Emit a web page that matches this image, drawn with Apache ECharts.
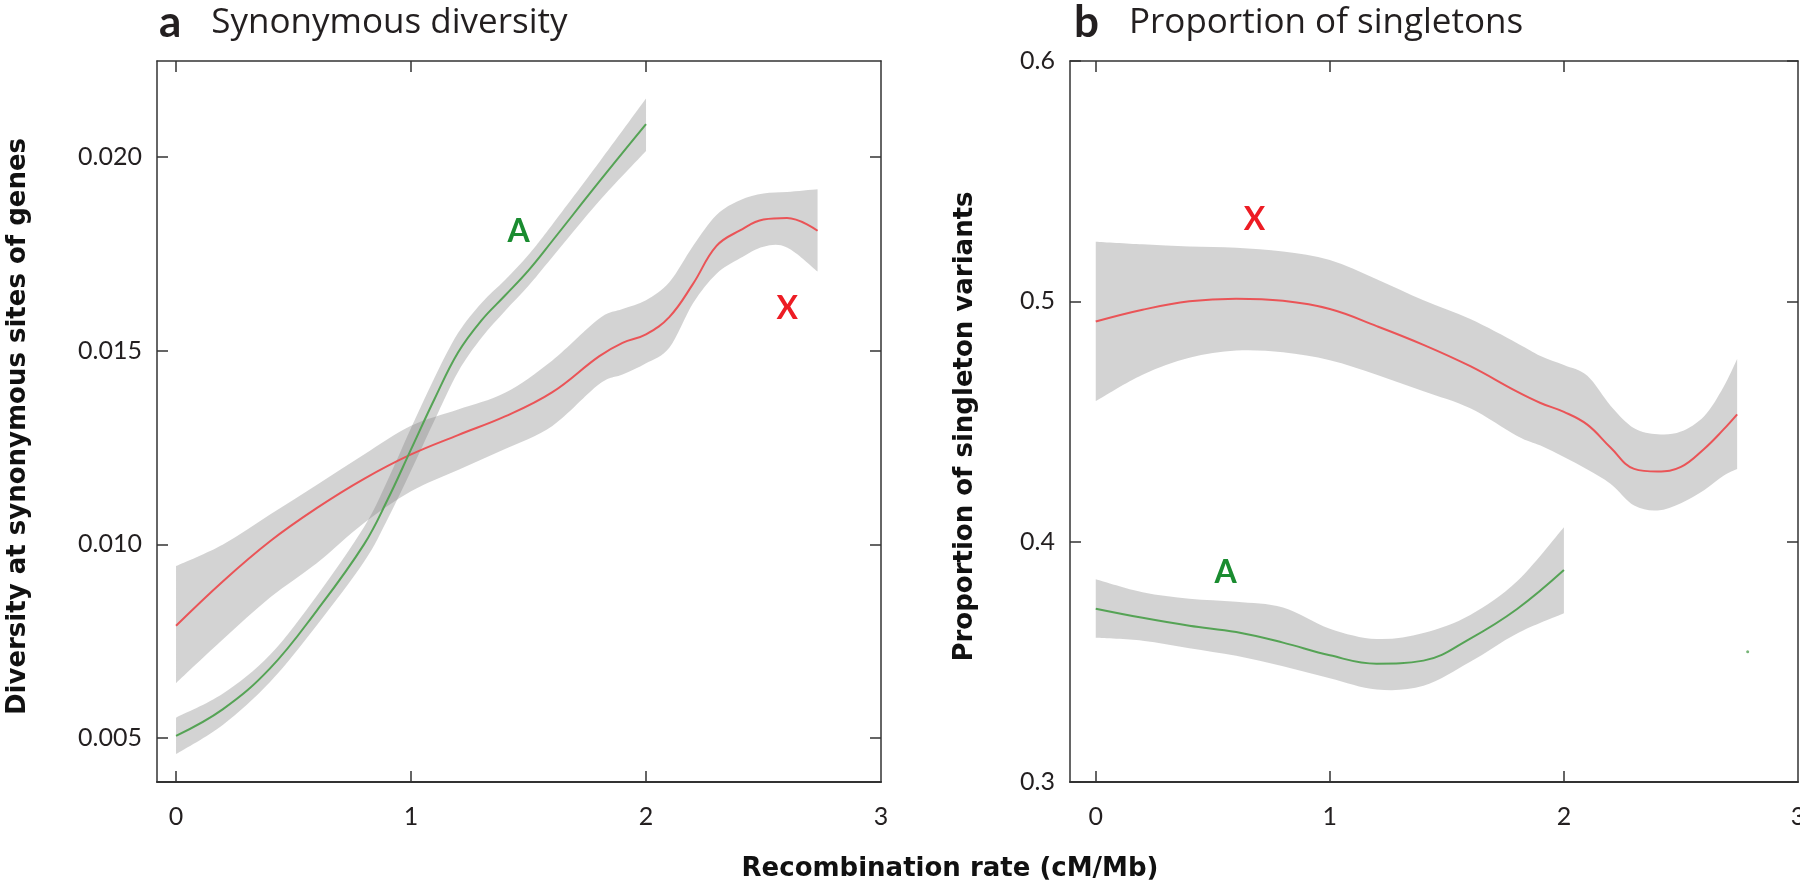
<!DOCTYPE html>
<html>
<head>
<meta charset="utf-8">
<script src="https://cdn.jsdelivr.net/npm/echarts@6/dist/echarts.min.js"></script>
<style>
html,body{margin:0;padding:0;background:#fff;}
#chart{width:1800px;height:883px;}
</style>
</head>
<body>
<div id="chart"></div>
<script>
// ---------- Panel a: Synonymous diversity ----------
const aRedX   = [0, 0.2, 0.4, 0.6, 0.8, 1.0, 1.2, 1.4, 1.6, 1.8, 1.9, 2.0, 2.1, 2.2, 2.3, 2.4, 2.5, 2.6, 2.73];
const aRedMid = [0.00790, 0.00905, 0.01008, 0.01094, 0.01169, 0.01232, 0.01282, 0.01330, 0.01392, 0.01485, 0.01520, 0.01542, 0.01587, 0.01672, 0.01770, 0.01810, 0.01838, 0.01842, 0.01809];
const aRedHi  = [0.00944, 0.01000, 0.01077, 0.01154, 0.01232, 0.01306, 0.01348, 0.01391, 0.01474, 0.01582, 0.01607, 0.01630, 0.01677, 0.01770, 0.01850, 0.01888, 0.01905, 0.01909, 0.01916];
const aRedLo  = [0.00642, 0.00755, 0.00863, 0.00952, 0.01055, 0.01137, 0.01192, 0.01246, 0.01305, 0.01413, 0.01438, 0.01467, 0.01508, 0.01622, 0.01698, 0.01738, 0.01768, 0.01766, 0.01704];

const aGrnX   = [0, 0.2, 0.4, 0.6, 0.8, 0.9, 1.0, 1.1, 1.2, 1.3, 1.4, 1.5, 1.6, 1.8, 2.0];
const aGrnMid = [0.00506, 0.00575, 0.00680, 0.00830, 0.01000, 0.01115, 0.01245, 0.01375, 0.01495, 0.01578, 0.01642, 0.01707, 0.01782, 0.01935, 0.02084];
const aGrnHi  = [0.00553, 0.00615, 0.00715, 0.00868, 0.01045, 0.01165, 0.01300, 0.01430, 0.01545, 0.01623, 0.01682, 0.01747, 0.01824, 0.01985, 0.02150];
const aGrnLo  = [0.00459, 0.00535, 0.00645, 0.00792, 0.00955, 0.01065, 0.01190, 0.01320, 0.01445, 0.01533, 0.01602, 0.01667, 0.01740, 0.01885, 0.02015];

// ---------- Panel b: Proportion of singletons ----------
const bRedX   = [0, 0.2, 0.4, 0.6, 0.8, 1.0, 1.2, 1.4, 1.6, 1.8, 1.9, 2.0, 2.1, 2.2, 2.3, 2.4, 2.5, 2.6, 2.68, 2.74];
const bRedMid = [0.4916, 0.4965, 0.5000, 0.5011, 0.5002, 0.4968, 0.4897, 0.4819, 0.4730, 0.4624, 0.4577, 0.4540, 0.4487, 0.4391, 0.4303, 0.4292, 0.4311, 0.4387, 0.4465, 0.4530];
const bRedHi  = [0.5248, 0.5237, 0.5228, 0.5223, 0.5207, 0.5172, 0.5092, 0.5004, 0.4926, 0.4826, 0.4773, 0.4735, 0.4690, 0.4565, 0.4472, 0.4447, 0.4458, 0.4523, 0.4640, 0.4760];
const bRedLo  = [0.4585, 0.4695, 0.4765, 0.4795, 0.4788, 0.4755, 0.4695, 0.4626, 0.4555, 0.4440, 0.4400, 0.4352, 0.4300, 0.4240, 0.4150, 0.4130, 0.4160, 0.4215, 0.4273, 0.4302];

const bGrnX   = [0, 0.2, 0.4, 0.6, 0.8, 1.0, 1.2, 1.4, 1.6, 1.8, 2.0];
const bGrnMid = [0.3721, 0.3683, 0.3650, 0.3624, 0.3580, 0.3527, 0.3492, 0.3505, 0.3597, 0.3720, 0.3882];
const bGrnHi  = [0.3844, 0.3790, 0.3763, 0.3750, 0.3726, 0.3638, 0.3595, 0.3620, 0.3695, 0.3835, 0.4060];
const bGrnLo  = [0.3600, 0.3588, 0.3557, 0.3525, 0.3482, 0.3432, 0.3385, 0.3400, 0.3500, 0.3618, 0.3702];
const bSpeck  = [[2.785, 0.3542]];

// ---------- ticks & labels ----------
const xTicks = [0, 1, 2, 3];
const aYTicks = [0.005, 0.010, 0.015, 0.020];
const bYTicks = [0.3, 0.4, 0.5, 0.6];
const labelsA = [{ name: 'A', x: 1.458, y: 0.01807, color: '#1a8c30' }, { name: 'X', x: 2.601, y: 0.01608, color: '#ed1c24' }];
const labelsB = [{ name: 'X', x: 0.678, y: 0.5341, color: '#ed1c24' }, { name: 'A', x: 0.555, y: 0.3873, color: '#1a8c30' }];

const RED = '#ea5457', GREEN = '#55a355', BAND = 'rgba(128,128,128,0.35)', AX = '#333';
const tickFont = 'Lato, "Open Sans", sans-serif';
const boldFont = '"DejaVu Sans", Verdana, sans-serif';

function pairs(xs, ys) { return xs.map((x, i) => [x, ys[i]]); }

// Catmull-Rom -> cubic Bezier segments through pixel points
function curveCmds(p) {
  let d = '';
  for (let i = 0; i < p.length - 1; i++) {
    const p0 = p[i - 1] || p[i], p1 = p[i], p2 = p[i + 1], p3 = p[i + 2] || p[i + 1];
    const c1 = [p1[0] + (p2[0] - p0[0]) / 6, p1[1] + (p2[1] - p0[1]) / 6];
    const c2 = [p2[0] - (p3[0] - p1[0]) / 6, p2[1] - (p3[1] - p1[1]) / 6];
    d += 'C' + c1[0] + ',' + c1[1] + ' ' + c2[0] + ',' + c2[1] + ' ' + p2[0] + ',' + p2[1];
  }
  return d;
}
function band(xs, lo, hi, xi, yi) {
  return { type: 'custom', xAxisIndex: xi, yAxisIndex: yi, silent: true, z: 1,
    data: [[xs[0], lo[0]]],
    renderItem: function (params, api) {
      const up = xs.map((x, i) => api.coord([x, hi[i]]));
      const dn = xs.map((x, i) => api.coord([x, lo[i]])).reverse();
      const d = 'M' + up[0][0] + ',' + up[0][1] + curveCmds(up) + 'L' + dn[0][0] + ',' + dn[0][1] + curveCmds(dn) + 'Z';
      return { type: 'path', shape: { pathData: d }, style: { fill: BAND, stroke: null } };
    } };
}
function mid(xs, ys, xi, yi, color) {
  return { type: 'line', xAxisIndex: xi, yAxisIndex: yi, data: pairs(xs, ys), smooth: 0.4, symbol: 'none',
    lineStyle: { color: color, width: 2 }, z: 3, silent: true };
}
function letters(list, xi, yi) {
  return { type: 'scatter', xAxisIndex: xi, yAxisIndex: yi, symbolSize: 1, itemStyle: { color: 'rgba(0,0,0,0)' }, z: 4, silent: true,
    labelLayout: { hideOverlap: false },
    data: list.map(d => ({ value: [d.x, d.y], label: { show: true, position: 'inside', formatter: d.name,
      color: d.color, opacity: 1, fontFamily: '"Liberation Sans Narrow", Lato, sans-serif', fontWeight: 'bold', fontSize: 32 } })) };
}

function xAx(grid, pos, min, max, labels) {
  return { type: 'value', gridIndex: grid, position: pos, min: min, max: max,
    axisLine: { show: true, onZero: false, lineStyle: { color: AX, width: pos === 'bottom' ? 2 : 1.5 } },
    axisTick: { show: true, inside: true, length: 11, lineStyle: { color: AX, width: 1.5 }, customValues: [0, 1, 2] },
    axisLabel: { show: labels, customValues: xTicks, margin: 22, fontSize: 25, color: '#231f20', fontFamily: tickFont,
      showMinLabel: true, showMaxLabel: true, formatter: v => String(v) },
    splitLine: { show: false } };
}
function yAx(grid, pos, min, max, ticks, dec, labels, name, gap) {
  return { type: 'value', gridIndex: grid, position: pos, min: min, max: max,
    name: name || '', nameLocation: 'middle', nameGap: gap || 0,
    nameTextStyle: { fontFamily: boldFont, fontWeight: 'bold', fontSize: 26, color: '#111', padding: [0, 10, 0, 0] },
    axisLine: { show: true, onZero: false, lineStyle: { color: AX, width: 1.5 } },
    axisTick: { show: true, inside: true, length: 11, lineStyle: { color: AX, width: 1.5 }, customValues: ticks },
    axisLabel: { show: labels, customValues: ticks, margin: 15, fontSize: 25, color: '#231f20', fontFamily: tickFont,
      showMinLabel: true, showMaxLabel: true, formatter: v => v.toFixed(dec) },
    splitLine: { show: false } };
}

const titleRich = {
  b: { fontFamily: 'Lato, sans-serif', fontWeight: 'bold', fontSize: 44, color: '#231f20' },
  s: { fontSize: 36 },
  n: { fontFamily: '"Open Sans", sans-serif', fontWeight: 'normal', fontSize: 35, color: '#231f20' }
};

const chart = echarts.init(document.getElementById('chart'), null, { renderer: 'canvas' });
chart.setOption({
  backgroundColor: '#fff',
  animation: false,
  title: [
    { left: 154, top: -4, text: '{b|a}{s|   }{n|Synonymous diversity}', textStyle: { rich: titleRich } },
    { left: 1069, top: -4, text: '{b|b}{s|   }{n|Proportion of singletons}', textStyle: { rich: titleRich } },
    { left: 945, top: 851, textAlign: 'center', text: 'Recombination rate (cM/Mb)',
      textStyle: { fontFamily: boldFont, fontWeight: 'bold', fontSize: 26, color: '#111' } }
  ],
  grid: [
    { left: 157, top: 61, width: 724, height: 721, containLabel: false, outerBoundsMode: 'none' },
    { left: 1070, top: 61, width: 728, height: 721, containLabel: false, outerBoundsMode: 'none' }
  ],
  xAxis: [
    xAx(0, 'bottom', -0.081, 3, true), xAx(0, 'top', -0.081, 3, false),
    xAx(1, 'bottom', -0.11, 3, true), xAx(1, 'top', -0.11, 3, false)
  ],
  yAxis: [
    yAx(0, 'left', 0.00387, 0.02247, aYTicks, 3, true, 'Diversity at synonymous sites of genes', 126),
    yAx(0, 'right', 0.00387, 0.02247, aYTicks, 3, false),
    yAx(1, 'left', 0.3, 0.6, bYTicks, 1, true, 'Proportion of singleton variants', 92),
    yAx(1, 'right', 0.3, 0.6, bYTicks, 1, false)
  ],
  series: [
    band(aRedX, aRedLo, aRedHi, 0, 0),
    band(aGrnX, aGrnLo, aGrnHi, 0, 0),
    mid(aRedX, aRedMid, 0, 0, RED),
    mid(aGrnX, aGrnMid, 0, 0, GREEN),
    letters(labelsA, 0, 0),
    band(bRedX, bRedLo, bRedHi, 2, 2),
    band(bGrnX, bGrnLo, bGrnHi, 2, 2),
    mid(bRedX, bRedMid, 2, 2, RED),
    mid(bGrnX, bGrnMid, 2, 2, GREEN),
    letters(labelsB, 2, 2),
    { type: 'scatter', xAxisIndex: 2, yAxisIndex: 2, data: bSpeck, symbolSize: 3, itemStyle: { color: GREEN }, silent: true }
  ]
});
</script>
</body>
</html>
